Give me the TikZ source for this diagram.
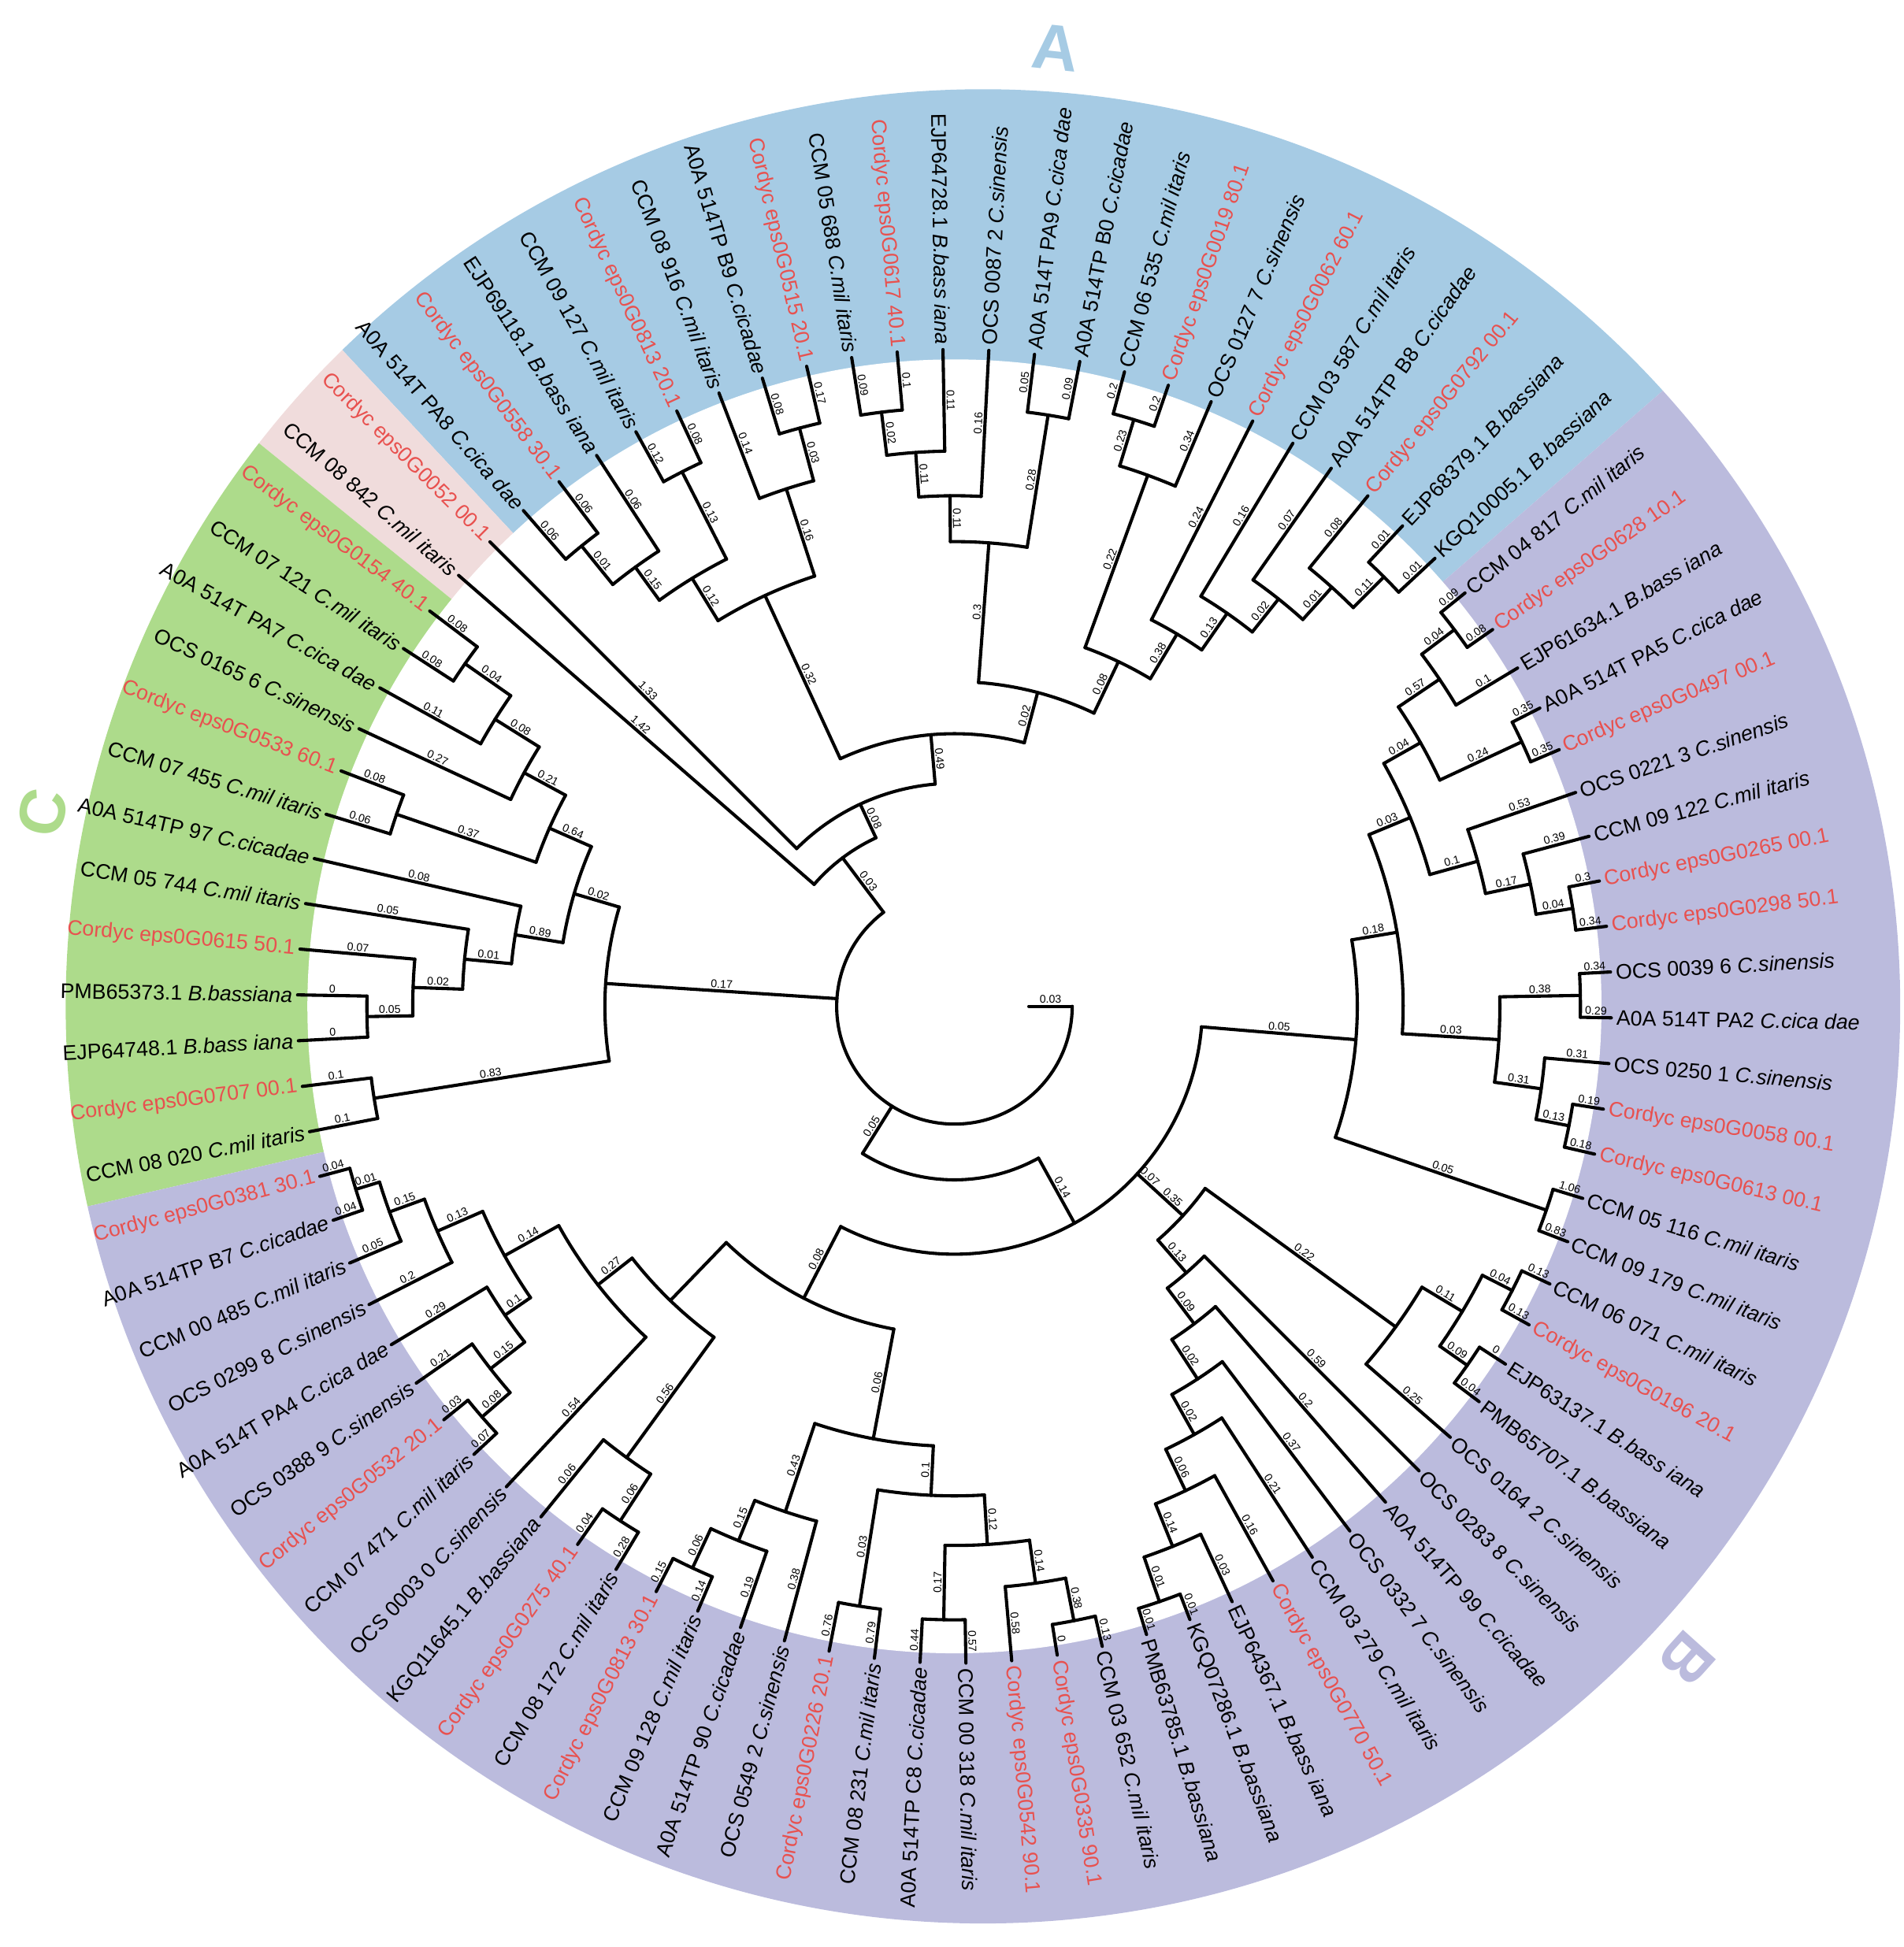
\documentclass[tikz,border=0pt]{standalone}
\usepackage{fontspec}
\setmainfont{Liberation Sans}
\definecolor{secA}{HTML}{A6CBE4}
\definecolor{secB}{HTML}{BBBBDD}
\definecolor{secC}{HTML}{ADDB8B}
\definecolor{secP}{HTML}{F0DCDC}
\definecolor{redt}{HTML}{E8514F}
\tikzset{
  br/.style={line width=2.6pt, line cap=round, line join=round},
  bl/.style={sloped, above, inner sep=1pt, font=\fontsize{9}{9}\selectfont},
  lf/.style={inner sep=0pt, font=\fontsize{17}{19}\selectfont},
  bk/.style={text=black},
  rd/.style={text=redt},
  big/.style={font=\fontsize{52}{52}\selectfont\bfseries}
}
\newcommand\eg[4]{\draw[br] (#2:#1pt) -- node[bl]{#4} (#2:#3pt);}
\newcommand\ac[3]{\draw[br] (#2:#1pt) arc[start angle=#2,end angle=#3,radius=#1pt];}
\newcommand\spc[1]{\textit{#1}}
\newcommand\lfR[4]{\node[lf,#1,rotate=#3,anchor=west] (#2) at (#3:534pt) {#4};}
\newcommand\lfL[4]{\node[lf,#1,rotate=#3+180,anchor=east] (#2) at (#3:534pt) {#4};}
\newcommand\sect[3]{\fill[#1] (0,0) -- (#2:900pt) arc[start angle=#2,end angle=#3,radius=900pt] -- cycle;}
\begin{document}
\begin{tikzpicture}
\useasboundingbox (-770pt,-759pt) rectangle (766pt,812pt);
% sectors
\begin{scope}
\clip (23pt,0pt) circle (740pt);
\sect{secA}{133}{41}
\sect{secP}{141}{133}
\sect{secC}{193}{141}
\sect{secB}{41}{-167}
\end{scope}
\fill[white] (0,0) circle (522pt);
\node[big,text=secA,rotate=-6] (lA) at (84:778pt) {A};
\node[big,text=secB,rotate=-132] (lB) at (-41.7:792pt) {B};
\node[big,text=secC,rotate=78] (lC) at (168:752pt) {C};
% ---------- clade A ----------
\ac{478}{131}{127}\eg{478}{131}{530}{0.06}\eg{478}{127}{530}{0.06}
\ac{438}{129}{123}\eg{438}{129}{478}{0.01}\eg{438}{123}{530}{0.06}
\ac{484}{119}{115}\eg{484}{119}{530}{0.12}\eg{484}{115}{530}{0.08}
\ac{405}{126}{117}\eg{405}{126}{438}{0.15}\eg{405}{117}{484}{0.13}
\ac{483}{107}{103}\eg{483}{107}{530}{0.08}\eg{483}{103}{530}{0.17}
\ac{439}{111}{105}\eg{439}{111}{530}{0.14}\eg{439}{105}{483}{0.03}
\ac{365}{121.5}{108}\eg{365}{121.5}{405}{0.12}\eg{365}{108}{439}{0.16}
\ac{483}{99}{95}\eg{483}{99}{530}{0.09}\eg{483}{95}{530}{0.1}
\ac{448}{97}{91}\eg{448}{97}{483}{0.02}\eg{448}{91}{530}{0.11}
\ac{412}{94}{87}\eg{412}{94}{448}{0.11}\eg{412}{87}{530}{0.16}
\ac{483}{83}{79}\eg{483}{83}{530}{0.05}\eg{483}{79}{530}{0.09}
\ac{375}{90.5}{81}\eg{375}{90.5}{412}{0.11}\eg{375}{81}{483}{0.28}
\ac{495}{75}{71}\eg{495}{75}{530}{0.2}\eg{495}{71}{530}{0.2}
\ac{456}{73}{67}\eg{456}{73}{495}{0.23}\eg{456}{67}{530}{0.34}
\ac{490}{47}{43}\eg{490}{47}{530}{0.01}\eg{490}{43}{530}{0.01}
\ac{455}{51}{45}\eg{455}{51}{530}{0.08}\eg{455}{45}{490}{0.11}
\ac{420}{55}{48}\eg{420}{55}{530}{0.07}\eg{420}{48}{455}{0.01}
\ac{386}{59}{51.5}\eg{386}{59}{530}{0.16}\eg{386}{51.5}{420}{0.02}
\ac{350}{63}{55.25}\eg{350}{63}{530}{0.24}\eg{350}{55.25}{386}{0.13}
\ac{308}{70}{59.13}\eg{308}{70}{456}{0.22}\eg{308}{59.13}{350}{0.38}
\ac{262}{85.75}{64.56}\eg{262}{85.75}{375}{0.3}\eg{262}{64.56}{308}{0.08}
\ac{220}{114.75}{75.16}\eg{220}{114.75}{365}{0.32}\eg{220}{75.16}{262}{0.02}
\ac{180}{135}{94.96}\eg{180}{135}{530}{1.33}\eg{180}{94.96}{220}{0.49}
\ac{150}{139}{114.98}\eg{150}{139}{530}{1.42}\eg{150}{114.98}{180}{0.08}
% ---------- root ----------
\ac{95}{126.99}{360}
\draw[br] (0:60pt) -- node[bl]{0.03} (0:95pt);
\eg{95}{126.99}{150}{0.03}
\eg{95}{176.25}{282}{0.17}
\eg{95}{238}{140}{0.05}
% ---------- clade C ----------
\ac{482}{147}{143}\eg{482}{147}{530}{0.08}\eg{482}{143}{530}{0.08}
\ac{437}{151}{145}\eg{437}{151}{530}{0.11}\eg{437}{145}{482}{0.04}
\ac{395}{155}{148}\eg{395}{155}{530}{0.27}\eg{395}{148}{437}{0.08}
\ac{476}{163}{159}\eg{476}{163}{530}{0.06}\eg{476}{159}{530}{0.08}
\ac{357}{161}{151.5}\eg{357}{161}{476}{0.37}\eg{357}{151.5}{395}{0.21}
\ac{474}{183}{179}\eg{474}{183}{530}{0}\eg{474}{179}{530}{0}
\ac{437}{181}{175}\eg{437}{181}{474}{0.05}\eg{437}{175}{530}{0.07}
\ac{397}{178}{171}\eg{397}{178}{437}{0.02}\eg{397}{171}{530}{0.05}
\ac{359}{174.5}{167}\eg{359}{174.5}{397}{0.01}\eg{359}{167}{530}{0.08}
\ac{320}{170.75}{156.25}\eg{320}{170.75}{359}{0.89}\eg{320}{156.25}{357}{0.64}
\ac{474}{191}{187}\eg{474}{191}{530}{0.1}\eg{474}{187}{530}{0.1}
\ac{282}{189}{163.5}\eg{282}{189}{474}{0.83}\eg{282}{163.5}{320}{0.02}
% ---------- lower backbone ----------
\ac{140}{238}{298.97}\eg{140}{298.97}{200}{0.14}
\ac{200}{-117.31}{-4.75}
\eg{200}{-117.31}{265}{0.08}
\eg{200}{-42.49}{218}{0.07}
\eg{200}{-4.75}{325}{0.05}
% ---------- B right ----------
\ac{505}{39}{35}\eg{505}{39}{530}{0.09}\eg{505}{35}{530}{0.08}
\ac{472}{37}{31}\eg{472}{37}{505}{0.04}\eg{472}{31}{530}{0.1}
\ac{505}{27}{23}\eg{505}{27}{530}{0.35}\eg{505}{23}{530}{0.35}
\ac{432}{34}{25}\eg{432}{34}{472}{0.57}\eg{432}{25}{505}{0.24}
\ac{505}{11}{7}\eg{505}{11}{530}{0.3}\eg{505}{7}{530}{0.34}
\ac{475}{15}{9}\eg{475}{15}{530}{0.39}\eg{475}{9}{505}{0.04}
\ac{438}{19}{12}\eg{438}{19}{530}{0.53}\eg{438}{12}{475}{0.17}
\ac{398}{29.5}{15.5}\eg{398}{29.5}{432}{0.04}\eg{398}{15.5}{438}{0.1}
\ac{505}{3}{-1}\eg{505}{3}{530}{0.34}\eg{505}{-1}{530}{0.29}
\ac{505}{-9}{-13}\eg{505}{-9}{530}{0.19}\eg{505}{-13}{530}{0.18}
\ac{478}{-5}{-11}\eg{478}{-5}{530}{0.31}\eg{478}{-11}{505}{0.13}
\ac{440}{1}{-8}\eg{440}{1}{505}{0.38}\eg{440}{-8}{478}{0.31}
\ac{362}{22.5}{-3.5}\eg{362}{22.5}{398}{0.03}\eg{362}{-3.5}{440}{0.03}
\ac{505}{-17}{-21}\eg{505}{-17}{530}{1.06}\eg{505}{-21}{530}{0.83}
\ac{325}{9.5}{-19}\eg{325}{9.5}{362}{0.18}\eg{325}{-19}{505}{0.05}
% ---------- W ----------
\ac{505}{-25}{-29}\eg{505}{-25}{530}{0.13}\eg{505}{-29}{530}{0.13}
\ac{505}{-33}{-37}\eg{505}{-33}{530}{0}\eg{505}{-37}{530}{0.04}
\ac{478}{-27}{-35}\eg{478}{-27}{505}{0.04}\eg{478}{-35}{505}{0.09}
\ac{440}{-31}{-41}\eg{440}{-31}{478}{0.11}\eg{440}{-41}{530}{0.25}
\ac{508}{-69}{-73}\eg{508}{-69}{530}{0.01}\eg{508}{-73}{530}{0.01}
\ac{470}{-65}{-71}\eg{470}{-65}{530}{0.03}\eg{470}{-71}{508}{0.01}
\ac{433}{-61}{-68}\eg{433}{-61}{530}{0.16}\eg{433}{-68}{470}{0.14}
\ac{396}{-57}{-64.5}\eg{396}{-57}{530}{0.21}\eg{396}{-64.5}{433}{0.06}
\ac{359}{-53}{-60.75}\eg{359}{-53}{530}{0.37}\eg{359}{-60.75}{396}{0.02}
\ac{321}{-49}{-56.88}\eg{321}{-49}{530}{0.2}\eg{321}{-56.88}{359}{0.02}
\ac{285}{-45}{-52.94}\eg{285}{-45}{530}{0.59}\eg{285}{-52.94}{321}{0.09}
\ac{250}{-36}{-48.97}\eg{250}{-36}{440}{0.22}\eg{250}{-48.97}{285}{0.13}
\eg{218}{-42.49}{250}{0.35}
% ---------- bottom ----------
\ac{505}{-77}{-81}\eg{505}{-77}{530}{0.13}\eg{505}{-81}{530}{0}
\ac{470}{-79}{-85}\eg{470}{-79}{505}{0.38}\eg{470}{-85}{530}{0.58}
\ac{495}{-89}{-93}\eg{495}{-89}{530}{0.57}\eg{495}{-93}{530}{0.44}
\ac{435}{-82}{-91}\eg{435}{-82}{470}{0.14}\eg{435}{-91}{495}{0.17}
\ac{490}{-97}{-101}\eg{490}{-97}{530}{0.79}\eg{490}{-101}{530}{0.76}
\ac{395}{-86.5}{-99}\eg{395}{-86.5}{435}{0.12}\eg{395}{-99}{490}{0.03}
\ac{500}{-113}{-117}\eg{500}{-113}{530}{0.14}\eg{500}{-117}{530}{0.15}
\ac{465}{-109}{-115}\eg{465}{-109}{530}{0.19}\eg{465}{-115}{500}{0.06}
\ac{430}{-105}{-112}\eg{430}{-105}{530}{0.38}\eg{430}{-112}{465}{0.15}
\ac{355}{-92.75}{-108.5}\eg{355}{-92.75}{395}{0.1}\eg{355}{-108.5}{430}{0.43}
\ac{495}{-121}{-125}\eg{495}{-121}{530}{0.28}\eg{495}{-125}{530}{0.04}
\ac{450}{-123}{-129}\eg{450}{-123}{495}{0.06}\eg{450}{-129}{530}{0.06}
\ac{505}{-161}{-165}\eg{505}{-161}{530}{0.04}\eg{505}{-165}{530}{0.04}
\ac{485}{-157}{-163}\eg{485}{-157}{530}{0.05}\eg{485}{-163}{505}{0.01}
\ac{455}{-153}{-160}\eg{455}{-153}{530}{0.2}\eg{455}{-160}{485}{0.15}
\ac{505}{-137}{-141}\eg{505}{-137}{530}{0.07}\eg{505}{-141}{530}{0.03}
\ac{475}{-139}{-145}\eg{475}{-139}{505}{0.08}\eg{475}{-145}{530}{0.21}
\ac{440}{-142}{-149}\eg{440}{-142}{475}{0.15}\eg{440}{-149}{530}{0.29}
\ac{415}{-145.5}{-156.5}\eg{415}{-145.5}{440}{0.1}\eg{415}{-156.5}{455}{0.13}
\ac{365}{-133}{-151}\eg{365}{-133}{530}{0.54}\eg{365}{-151}{415}{0.14}
\ac{330}{-126}{-142}\eg{330}{-126}{450}{0.56}\eg{330}{-142}{365}{0.27}
\ac{265}{-100.63}{-134}\eg{265}{-134}{330}{}\eg{265}{-100.63}{355}{0.06}
% ---------- leaves ----------
\lfL{bk}{l1}{131}{A0A 514T PA8 \spc{C.cica dae}}
\lfL{rd}{l2}{127}{Cordyc eps0G0558 30.1}
\lfL{bk}{l3}{123}{EJP69118.1 \spc{B.bass iana}}
\lfL{bk}{l4}{119}{CCM 09 127 \spc{C.mil itaris}}
\lfL{rd}{l5}{115}{Cordyc eps0G0813 20.1}
\lfL{bk}{l6}{111}{CCM 08 916 \spc{C.mil itaris}}
\lfL{bk}{l7}{107}{A0A 514TP B9 \spc{C.cicadae}}
\lfL{rd}{l8}{103}{Cordyc eps0G0515 20.1}
\lfL{bk}{l9}{99}{CCM 05 688 \spc{C.mil itaris}}
\lfL{rd}{l10}{95}{Cordyc eps0G0617 40.1}
\lfL{bk}{l11}{91}{EJP64728.1 \spc{B.bass iana}}
\lfR{bk}{l12}{87}{OCS 0087 2 \spc{C.sinensis}}
\lfR{bk}{l13}{83}{A0A 514T PA9 \spc{C.cica dae}}
\lfR{bk}{l14}{79}{A0A 514TP B0 \spc{C.cicadae}}
\lfR{bk}{l15}{75}{CCM 06 535 \spc{C.mil itaris}}
\lfR{rd}{l16}{71}{Cordyc eps0G0019 80.1}
\lfR{bk}{l17}{67}{OCS 0127 7 \spc{C.sinensis}}
\lfR{rd}{l18}{63}{Cordyc eps0G0062 60.1}
\lfR{bk}{l19}{59}{CCM 03 587 \spc{C.mil itaris}}
\lfR{bk}{l20}{55}{A0A 514TP B8 \spc{C.cicadae}}
\lfR{rd}{l21}{51}{Cordyc eps0G0792 00.1}
\lfR{bk}{l22}{47}{EJP68379.1 \spc{B.bassiana}}
\lfR{bk}{l23}{43}{KGQ10005.1 \spc{B.bassiana}}
\lfR{bk}{l24}{39}{CCM 04 817 \spc{C.mil itaris}}
\lfR{rd}{l25}{35}{Cordyc eps0G0628 10.1}
\lfR{bk}{l26}{31}{EJP61634.1 \spc{B.bass iana}}
\lfR{bk}{l27}{27}{A0A 514T PA5 \spc{C.cica dae}}
\lfR{rd}{l28}{23}{Cordyc eps0G0497 00.1}
\lfR{bk}{l29}{19}{OCS 0221 3 \spc{C.sinensis}}
\lfR{bk}{l30}{15}{CCM 09 122 \spc{C.mil itaris}}
\lfR{rd}{l31}{11}{Cordyc eps0G0265 00.1}
\lfR{rd}{l32}{7}{Cordyc eps0G0298 50.1}
\lfR{bk}{l33}{3}{OCS 0039 6 \spc{C.sinensis}}
\lfR{bk}{l34}{-1}{A0A 514T PA2 \spc{C.cica dae}}
\lfR{bk}{l35}{-5}{OCS 0250 1 \spc{C.sinensis}}
\lfR{rd}{l36}{-9}{Cordyc eps0G0058 00.1}
\lfR{rd}{l37}{-13}{Cordyc eps0G0613 00.1}
\lfR{bk}{l38}{-17}{CCM 05 116 \spc{C.mil itaris}}
\lfR{bk}{l39}{-21}{CCM 09 179 \spc{C.mil itaris}}
\lfR{bk}{l40}{-25}{CCM 06 071 \spc{C.mil itaris}}
\lfR{rd}{l41}{-29}{Cordyc eps0G0196 20.1}
\lfR{bk}{l42}{-33}{EJP63137.1 \spc{B.bass iana}}
\lfR{bk}{l43}{-37}{PMB65707.1 \spc{B.bassiana}}
\lfR{bk}{l44}{-41}{OCS 0164 2 \spc{C.sinensis}}
\lfR{bk}{l45}{-45}{OCS 0283 8 \spc{C.sinensis}}
\lfR{bk}{l46}{-49}{A0A 514TP 99 \spc{C.cicadae}}
\lfR{bk}{l47}{-53}{OCS 0332 7 \spc{C.sinensis}}
\lfR{bk}{l48}{-57}{CCM 03 279 \spc{C.mil itaris}}
\lfR{rd}{l49}{-61}{Cordyc eps0G0770 50.1}
\lfR{bk}{l50}{-65}{EJP64367.1 \spc{B.bass iana}}
\lfR{bk}{l51}{-69}{KGQ07286.1 \spc{B.bassiana}}
\lfR{bk}{l52}{-73}{PMB63785.1 \spc{B.bassiana}}
\lfR{bk}{l53}{-77}{CCM 03 652 \spc{C.mil itaris}}
\lfR{rd}{l54}{-81}{Cordyc eps0G0335 90.1}
\lfR{rd}{l55}{-85}{Cordyc eps0G0542 90.1}
\lfR{bk}{l56}{-89}{CCM 00 318 \spc{C.mil itaris}}
\lfL{bk}{l57}{267}{A0A 514TP C8 \spc{C.cicadae}}
\lfL{bk}{l58}{263}{CCM 08 231 \spc{C.mil itaris}}
\lfL{rd}{l59}{259}{Cordyc eps0G0226 20.1}
\lfL{bk}{l60}{255}{OCS 0549 2 \spc{C.sinensis}}
\lfL{bk}{l61}{251}{A0A 514TP 90 \spc{C.cicadae}}
\lfL{bk}{l62}{247}{CCM 09 128 \spc{C.mil itaris}}
\lfL{rd}{l63}{243}{Cordyc eps0G0813 30.1}
\lfL{bk}{l64}{239}{CCM 08 172 \spc{C.mil itaris}}
\lfL{rd}{l65}{235}{Cordyc eps0G0275 40.1}
\lfL{bk}{l66}{231}{KGQ11645.1 \spc{B.bassiana}}
\lfL{bk}{l67}{227}{OCS 0003 0 \spc{C.sinensis}}
\lfL{bk}{l68}{223}{CCM 07 471 \spc{C.mil itaris}}
\lfL{rd}{l69}{219}{Cordyc eps0G0532 20.1}
\lfL{bk}{l70}{215}{OCS 0388 9 \spc{C.sinensis}}
\lfL{bk}{l71}{211}{A0A 514T PA4 \spc{C.cica dae}}
\lfL{bk}{l72}{207}{OCS 0299 8 \spc{C.sinensis}}
\lfL{bk}{l73}{203}{CCM 00 485 \spc{C.mil itaris}}
\lfL{bk}{l74}{199}{A0A 514TP B7 \spc{C.cicadae}}
\lfL{rd}{l75}{195}{Cordyc eps0G0381 30.1}
\lfL{bk}{l76}{191}{CCM 08 020 \spc{C.mil itaris}}
\lfL{rd}{l77}{187}{Cordyc eps0G0707 00.1}
\lfL{bk}{l78}{183}{EJP64748.1 \spc{B.bass iana}}
\lfL{bk}{l79}{179}{PMB65373.1 \spc{B.bassiana}}
\lfL{rd}{l80}{175}{Cordyc eps0G0615 50.1}
\lfL{bk}{l81}{171}{CCM 05 744 \spc{C.mil itaris}}
\lfL{bk}{l82}{167}{A0A 514TP 97 \spc{C.cicadae}}
\lfL{bk}{l83}{163}{CCM 07 455 \spc{C.mil itaris}}
\lfL{rd}{l84}{159}{Cordyc eps0G0533 60.1}
\lfL{bk}{l85}{155}{OCS 0165 6 \spc{C.sinensis}}
\lfL{bk}{l86}{151}{A0A 514T PA7 \spc{C.cica dae}}
\lfL{bk}{l87}{147}{CCM 07 121 \spc{C.mil itaris}}
\lfL{rd}{l88}{143}{Cordyc eps0G0154 40.1}
\lfL{bk}{l89}{139}{CCM 08 842 \spc{C.mil itaris}}
\lfL{rd}{l90}{135}{Cordyc eps0G0052 00.1}
\end{tikzpicture}
\end{document}
